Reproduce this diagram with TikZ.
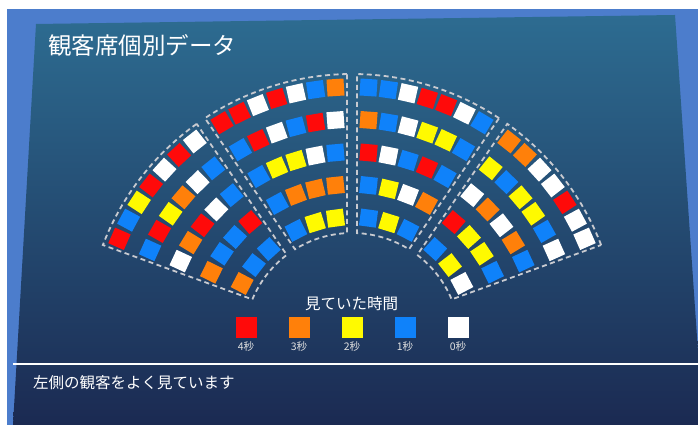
\documentclass[tikz,border=0pt]{standalone}
\usepackage{fontspec}
\setmainfont{Noto Sans CJK JP}
\usetikzlibrary{calc}
\definecolor{seatR}{RGB}{255,10,10}
\definecolor{seatO}{RGB}{255,128,10}
\definecolor{seatY}{RGB}{255,250,0}
\definecolor{seatB}{RGB}{15,130,250}
\definecolor{seatW}{RGB}{255,255,255}
\definecolor{frameblue}{RGB}{76,125,204}
\definecolor{paneltop}{RGB}{45,108,145}
\definecolor{panelmid}{RGB}{36,74,112}
\definecolor{panelbot}{RGB}{27,42,82}
\definecolor{dashgray}{RGB}{200,202,208}
\definecolor{lgray}{RGB}{225,225,225}

% #1 high angle, #2 low angle, #3 radius, #4 number of seats, #5 colours, #6 name prefix
\newcommand\seatrow[6]{%
  \pgfmathsetmacro\angA{#1-asin(16.5/#3)}%
  \pgfmathsetmacro\angB{#2+asin(16.5/#3)}%
  \foreach \c [count=\i from 0] in {#5} {%
    \pgfmathsetmacro\seatang{\angA-\i*(\angA-\angB)/(#4-1)}%
    \node[seat, fill=\c, rotate=\seatang] (#6-\i) at ($(C)+(\seatang:#3)$) {};
  }%
}
% #1 low angle, #2 high angle
\newcommand\sectionbox[2]{%
  \pgfmathsetmacro\outA{#1+asin(5/267)}%
  \pgfmathsetmacro\outB{#2-asin(5/267)}%
  \pgfmathsetmacro\innA{#1+asin(5/108)}%
  \pgfmathsetmacro\innB{#2-asin(5/108)}%
  \draw[sectline] ($(C)+(\outA:267)$) arc[start angle=\outA, end angle=\outB, radius=267]
    -- ($(C)+(\innB:108)$) arc[start angle=\innB, end angle=\innA, radius=108] -- cycle;
}

\begin{document}
\begin{tikzpicture}[x=1pt,y=1pt,
  seat/.style={minimum size=17, inner sep=0, outer sep=0, draw=none},
  legbox/.style={minimum size=21, inner sep=0, outer sep=0, draw=none},
  leglabel/.style={text=lgray, inner sep=0, font=\fontsize{10.5}{12}\selectfont},
  sectline/.style={draw=dashgray, line width=1.8, dash pattern=on 5 off 3.5}]
\useasboundingbox (0,0) rectangle (698,425);
\clip (0,0) rectangle (698,425);
\fill[white] (0,0) rectangle (698,425);
\fill[frameblue] (7,0) rectangle (698,416);
\shade[top color=paneltop, middle color=panelmid, bottom color=panelbot]
  (13,0) -- (36,401) -- (675,410) -- (703,0) -- cycle;

\coordinate (C) at (352,84);

\node[anchor=west, inner sep=0, text=white, font=\fontsize{23.5}{28}\selectfont] (title) at (48,380) {観客席個別データ};

% dashed section outlines
\sectionbox{124.5}{160}
\sectionbox{90}{124.5}
\sectionbox{55.5}{90}
\sectionbox{20}{55.5}

% section 1
\seatrow{160}{124.5}{254}{7}{seatR,seatB,seatY,seatR,seatW,seatR,seatW}{sa1}
\seatrow{160}{124.5}{221.5}{6}{seatB,seatR,seatY,seatO,seatW,seatB}{sa2}
\seatrow{160}{124.5}{189}{5}{seatW,seatO,seatR,seatW,seatB}{sa3}
\seatrow{160}{124.5}{156.5}{4}{seatO,seatB,seatB,seatR}{sa4}
\seatrow{160}{124.5}{124}{3}{seatO,seatB,seatB}{sa5}
% section 2
\seatrow{124.5}{90}{254}{7}{seatR,seatR,seatW,seatR,seatW,seatB,seatO}{sb1}
\seatrow{124.5}{90}{221.5}{6}{seatB,seatR,seatW,seatB,seatR,seatW}{sb2}
\seatrow{124.5}{90}{189}{5}{seatB,seatY,seatY,seatW,seatB}{sb3}
\seatrow{124.5}{90}{156.5}{4}{seatB,seatO,seatO,seatO}{sb4}
\seatrow{124.5}{90}{124}{3}{seatB,seatY,seatY}{sb5}
% section 3
\seatrow{90}{55.5}{254}{7}{seatB,seatB,seatW,seatR,seatR,seatW,seatB}{sc1}
\seatrow{90}{55.5}{221.5}{6}{seatO,seatB,seatW,seatY,seatY,seatB}{sc2}
\seatrow{90}{55.5}{189}{5}{seatR,seatW,seatB,seatR,seatB}{sc3}
\seatrow{90}{55.5}{156.5}{4}{seatB,seatY,seatW,seatO}{sc4}
\seatrow{90}{55.5}{124}{3}{seatB,seatY,seatB}{sc5}
% section 4
\seatrow{55.5}{20}{254}{7}{seatO,seatO,seatW,seatW,seatR,seatW,seatW}{sd1}
\seatrow{55.5}{20}{221.5}{6}{seatY,seatB,seatY,seatY,seatB,seatW}{sd2}
\seatrow{55.5}{20}{189}{5}{seatW,seatO,seatW,seatO,seatB}{sd3}
\seatrow{55.5}{20}{156.5}{4}{seatR,seatY,seatY,seatB}{sd4}
\seatrow{55.5}{20}{124}{3}{seatB,seatY,seatW}{sd5}

% legend
\node[text=white, inner sep=0, font=\fontsize{15.5}{18}\selectfont] (legtitle) at (351.5,121) {見ていた時間};
\foreach \col/\lab [count=\k from 0] in {seatR/4秒, seatO/3秒, seatY/2秒, seatB/1秒, seatW/0秒} {
  \node[legbox, fill=\col] (leg\k) at (246+53*\k, 97.5) {};
  \node[leglabel] (lab\k) at (246+53*\k, 78) {\lab};
}

% separator and caption
\coordinate (sepL) at (13,61);
\coordinate (sepR) at (698,61);
\draw[white, line width=2] (sepL) -- (sepR);
\node[anchor=west, inner sep=0, text=white, font=\fontsize{15.5}{18}\selectfont] (caption) at (33,42) {左側の観客をよく見ています};
\end{tikzpicture}
\end{document}
